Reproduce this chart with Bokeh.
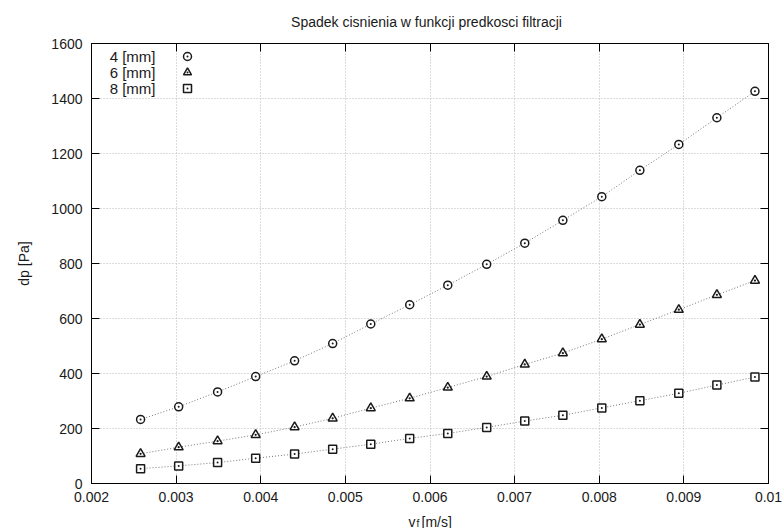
from bokeh.plotting import figure
from bokeh.layouts import column
from bokeh.models import (Legend, LegendItem, Label, LinearAxis, FixedTicker, Range1d)
from bokeh.embed import file_html
from bokeh.resources import INLINE

# ---- data ----
vf = [0.00258, 0.00303, 0.00349, 0.00394, 0.00440, 0.00485, 0.00530, 0.00576, 0.00621,
      0.00667, 0.00712, 0.00757, 0.00803, 0.00848, 0.00894, 0.00939, 0.00984]
dp_4mm = [233, 279, 333, 389, 446, 509, 580, 650, 721, 797, 874, 957, 1043, 1139, 1233, 1330, 1426]
dp_6mm = [108, 132, 154, 177, 205, 237, 274, 310, 349, 389, 433, 474, 525, 578, 632, 686, 738]
dp_8mm = [54, 64, 76, 92, 107, 125, 143, 164, 182, 204, 227, 248, 275, 301, 328, 358, 387]
series_labels = ["4 [mm]", "6 [mm]", "8 [mm]"]
x_ticks = [0.002, 0.003, 0.004, 0.005, 0.006, 0.007, 0.008, 0.009, 0.01]
x_tick_labels = ["0.002", "0.003", "0.004", "0.005", "0.006", "0.007", "0.008", "0.009", "0.01"]
y_ticks = [0, 200, 400, 600, 800, 1000, 1200, 1400, 1600]
title_text = "Spadek cisnienia w funkcji predkosci filtracji"
y_label = "dp [Pa]"

FONT = "Liberation Sans"
FS = "14px"
INK = "#1a1a1a"


def strip(h):
    s = figure(width=784, height=h, output_backend="svg", toolbar_location=None, title=None,
               x_range=Range1d(0, 1), y_range=Range1d(0, 1), frame_align=False,
               min_border_left=0, min_border_right=0, min_border_top=0, min_border_bottom=0)
    s.axis.visible = False
    s.grid.visible = False
    s.outline_line_color = None
    return s

# title strip
t = strip(30)
t.add_layout(Label(x=426, y=9, x_units="screen", y_units="screen", text=title_text,
                   text_align="center", text_baseline="alphabetic", text_font=FONT,
                   text_font_size=FS, text_color=INK))

p = figure(width=784, height=480, output_backend="svg", toolbar_location=None, title=None,
           x_range=Range1d(0.002, 0.01), y_range=Range1d(0, 1600),
           min_border_left=91, min_border_right=16, min_border_top=13, min_border_bottom=27,
           frame_align=False)
p.outline_line_color = "black"
p.outline_line_width = 1
p.background_fill_color = "white"

def style_axis(ax, labels=True):
    ax.axis_line_color = None
    ax.major_tick_in = 8
    ax.major_tick_out = 0
    ax.major_tick_line_color = "black"
    ax.minor_tick_line_color = None
    ax.major_label_text_font = FONT
    ax.major_label_text_font_size = FS if labels else "0px"
    ax.major_label_text_color = INK if labels else None
    ax.axis_label_text_font = FONT
    ax.axis_label_text_font_size = FS
    ax.axis_label_text_font_style = "normal"
    ax.axis_label_text_color = INK

xt = FixedTicker(ticks=x_ticks)
yt = FixedTicker(ticks=y_ticks)
p.xaxis.ticker = xt
p.yaxis.ticker = yt
p.xaxis.major_label_overrides = {t_: s for t_, s in zip(x_ticks, x_tick_labels)}
p.yaxis.formatter.use_scientific = False
for ax in p.xaxis:
    style_axis(ax)
    ax.major_label_standoff = 8
for ax in p.yaxis:
    style_axis(ax)
    ax.major_label_standoff = 9
    ax.axis_label = y_label
    ax.axis_label_standoff = 16

top_ax = LinearAxis(ticker=xt)
style_axis(top_ax, labels=False)
top_ax.major_label_standoff = 0
right_ax = LinearAxis(ticker=yt)
style_axis(right_ax, labels=False)
right_ax.major_label_standoff = 0
p.add_layout(top_ax, "above")
p.add_layout(right_ax, "right")

p.xgrid.ticker = xt
p.ygrid.ticker = yt
for g in (p.xgrid, p.ygrid):
    g.grid_line_color = "#b8b8b8"
    g.grid_line_dash = "1 2"
    g.grid_line_width = 1

# connecting dotted curves
for ys in (dp_4mm, dp_6mm, dp_8mm):
    p.line(vf, ys, line_color="#777777", line_dash="1 2", line_width=1)

r4 = p.scatter(vf, dp_4mm, marker="circle_dot", size=8, line_color=INK, fill_color="white", line_width=1.5)
r6 = p.scatter(vf, dp_6mm, marker="triangle_dot", size=9, line_color=INK, fill_color="white", line_width=1.5)
r8 = p.scatter(vf, dp_8mm, marker="square_dot", size=8, line_color=INK, fill_color="white", line_width=1.5)

# legend: text on the left (labels), marker on the right (one single-item legend per row)
row_bottoms = [417, 401, 385]
for r, yb in zip((r4, r6, r8), row_bottoms):
    lg = Legend(items=[LegendItem(label=" ", renderers=[r])],
                location=(86, yb), orientation="vertical", border_line_color=None,
                background_fill_alpha=0, padding=0, spacing=0, margin=0,
                glyph_width=20, glyph_height=20, label_height=20, label_width=0,
                label_standoff=0, label_text_font_size="1px", label_text_color=None)
    p.add_layout(lg)

for i, lab in enumerate(series_labels):
    p.add_layout(Label(x=64, y=427 - 16 * i, x_units="screen", y_units="screen", text=lab,
                       text_align="right", text_baseline="middle", text_font=FONT,
                       text_font_size="15px", text_color=INK))

# x axis label (with subscript) in a thin strip below the plot
q = strip(18)
q.add_layout(Label(x=415, y=7, x_units="screen", y_units="screen", text="v",
                   text_align="right", text_baseline="alphabetic", text_font=FONT,
                   text_font_size=FS, text_color=INK))
q.add_layout(Label(x=416, y=5, x_units="screen", y_units="screen", text="f",
                   text_align="left", text_baseline="alphabetic", text_font=FONT,
                   text_font_size="10px", text_color=INK))
q.add_layout(Label(x=421, y=7, x_units="screen", y_units="screen", text="[m/s]",
                   text_align="left", text_baseline="alphabetic", text_font=FONT,
                   text_font_size=FS, text_color=INK))

layout = column(t, p, q, spacing=0)
open("out.html", "w").write(file_html(layout, INLINE))
